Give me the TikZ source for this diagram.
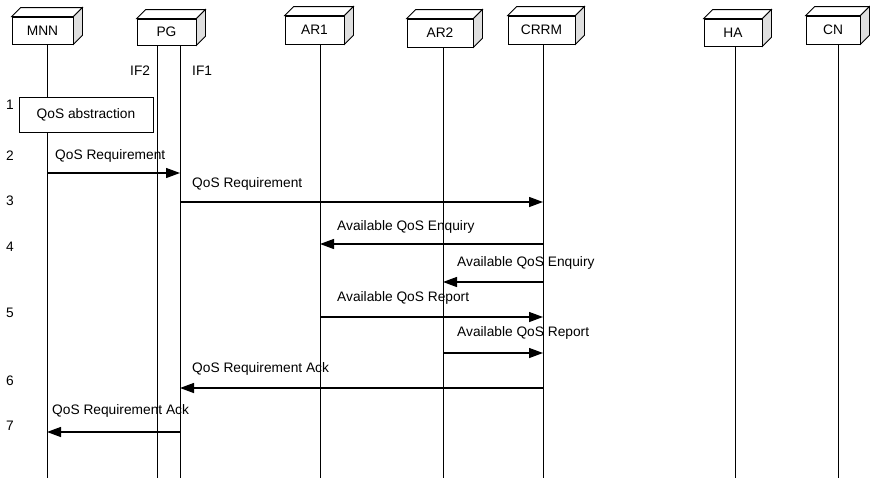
\documentclass[tikz,border=0pt]{standalone}
\usepackage{fontspec}
\setmainfont{Liberation Sans}
\usetikzlibrary{arrows.meta}
\begin{document}
\begin{tikzpicture}[x=1pt,y=-1pt,
  actor/.style={draw,line width=0.8pt,fill=white,inner sep=0pt,font=\fontsize{13.75}{16}\selectfont},
  lifeline/.style={line width=0.9pt},
  msg/.style={line width=1.3pt,-{Triangle[length=14pt,width=10pt]}},
  lbl/.style={anchor=west,inner sep=0pt,font=\fontsize{13.75}{16}\selectfont},
  num/.style={inner sep=0pt,font=\fontsize{13.75}{16}\selectfont}]
\useasboundingbox (0,0) rectangle (870,482);

% entity boxes (front faces)
\node[actor,minimum width=61pt,minimum height=27pt] (mnn)  at (42.5,30.5) {MNN};
\node[actor,minimum width=59pt,minimum height=26pt] (pg)   at (166.5,32)  {PG};
\node[actor,minimum width=59pt,minimum height=28pt] (ar1)  at (314.5,30)  {AR1};
\node[actor,minimum width=66pt,minimum height=28pt] (ar2)  at (440,33)    {AR2};
\node[actor,minimum width=67pt,minimum height=28pt] (crrm) at (541.5,30)  {CRRM};
\node[actor,minimum width=58pt,minimum height=27pt] (ha)   at (733,32.5)  {HA};
\node[actor,minimum width=54pt,minimum height=28pt] (cn)   at (833,30)    {CN};

% depth faces of the boxes
\foreach \n in {mnn,pg,ar1,ar2,crrm,ha,cn}{
  \draw[line width=0.8pt,fill=white] (\n.north west) -- ++(9,-9) -- ([shift={(9,-9)}]\n.north east) -- (\n.north east) -- cycle;
  \draw[line width=0.8pt,fill=gray!25] (\n.north east) -- ++(9,-9) -- ([shift={(9,-9)}]\n.south east) -- (\n.south east) -- cycle;
}

% lifeline positions
\coordinate (L-mnn)  at (47,0);
\coordinate (L-if2)  at (157,0);
\coordinate (L-if1)  at (180,0);
\coordinate (L-ar1)  at (320,0);
\coordinate (L-ar2)  at (443,0);
\coordinate (L-crrm) at (543,0);
\coordinate (L-ha)   at (735,0);
\coordinate (L-cn)   at (838,0);
\coordinate (bottom) at (0,478);

\draw[lifeline] (L-mnn  |- mnn.south)  -- (L-mnn  |- bottom);
\draw[lifeline] (L-if2  |- pg.south)   -- (L-if2  |- bottom);
\draw[lifeline] (L-if1  |- pg.south)   -- (L-if1  |- bottom);
\draw[lifeline] (L-ar1  |- ar1.south)  -- (L-ar1  |- bottom);
\draw[lifeline] (L-ar2  |- ar2.south)  -- (L-ar2  |- bottom);
\draw[lifeline] (L-crrm |- crrm.south) -- (L-crrm |- bottom);
\draw[lifeline] (L-ha   |- ha.south)   -- (L-ha   |- bottom);
\draw[lifeline] (L-cn   |- cn.south)   -- (L-cn   |- bottom);

% interface labels
\node[lbl] (if2) at (130,71) {IF2};
\node[lbl] (if1) at (192,71) {IF1};

% step 1
\node[actor,minimum width=134pt,minimum height=35pt] (abs) at (86,114.5) {QoS abstraction};

% step numbers
\node[num] (n1) at (10,105) {1};
\node[num] (n2) at (10,156) {2};
\node[num] (n3) at (10,201) {3};
\node[num] (n4) at (10,247) {4};
\node[num] (n5) at (10,313) {5};
\node[num] (n6) at (10,381) {6};
\node[num] (n7) at (10,426) {7};

% messages
\draw[msg] (L-mnn |- 0,173) -- (L-if1 |- 0,173);
\node[lbl] (m2) at (55,156) {QoS Requirement};

\draw[msg] (L-if1 |- 0,202) -- (L-crrm |- 0,202);
\node[lbl] (m3) at (192,184) {QoS Requirement};

\draw[msg] (L-crrm |- 0,244) -- (L-ar1 |- 0,244);
\node[lbl] (m4a) at (337,227) {Available QoS Enquiry};

\draw[msg] (L-crrm |- 0,282) -- (L-ar2 |- 0,282);
\node[lbl] (m4b) at (457,263) {Available QoS Enquiry};

\draw[msg] (L-ar1 |- 0,317) -- (L-crrm |- 0,317);
\node[lbl] (m5a) at (337,298) {Available QoS Report};

\draw[msg] (L-ar2 |- 0,353) -- (L-crrm |- 0,353);
\node[lbl] (m5b) at (457,333) {Available QoS Report};

\draw[msg] (L-crrm |- 0,388) -- (L-if1 |- 0,388);
\node[lbl] (m6) at (192,369) {QoS Requirement Ack};

\draw[msg] (L-if1 |- 0,432) -- (L-mnn |- 0,432);
\node[lbl] (m7) at (52,411) {QoS Requirement Ack};
\end{tikzpicture}
\end{document}
